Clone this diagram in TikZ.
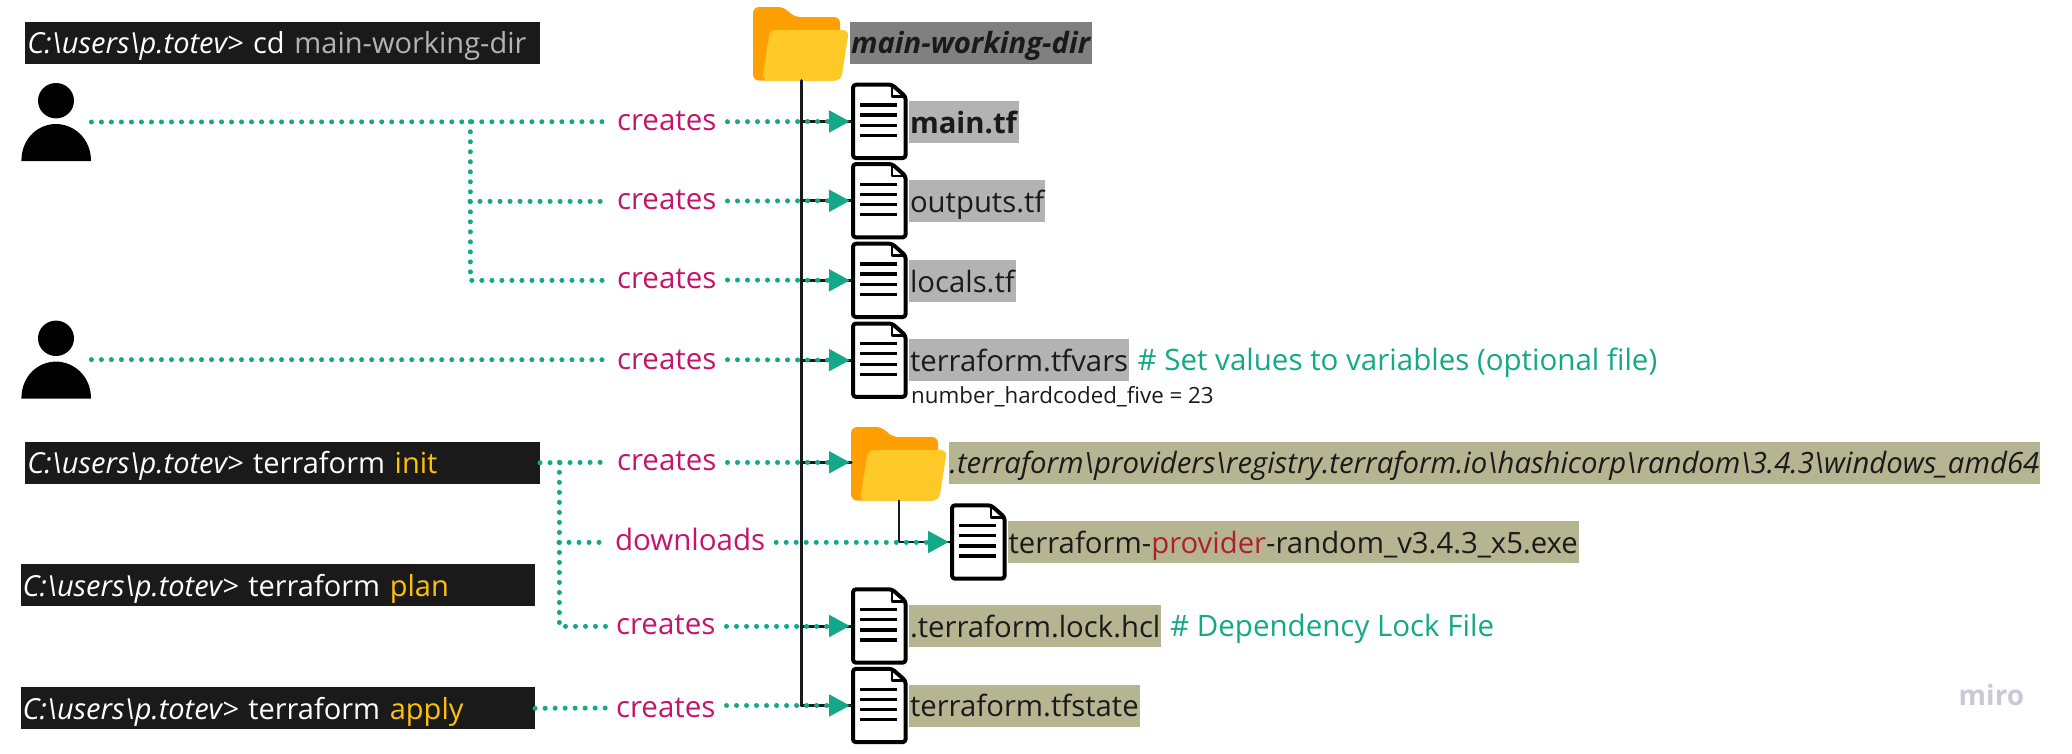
\documentclass[tikz,border=0pt]{standalone}
\usepackage{fontspec}
\setmainfont{Open Sans}
\usetikzlibrary{arrows.meta}

\definecolor{linkgreen}{HTML}{13A887}
\definecolor{linkpink}{HTML}{C4146B}
\definecolor{termblack}{HTML}{1A1A1A}
\definecolor{termyellow}{HTML}{FFC107}
\definecolor{dirgrey}{HTML}{808080}
\definecolor{filegrey}{HTML}{B3B3B3}
\definecolor{providerkhaki}{HTML}{B5B592}
\definecolor{providerred}{HTML}{B01E32}
\definecolor{foldback}{HTML}{FFA000}
\definecolor{foldfront}{HTML}{FFCA28}
\definecolor{logogrey}{HTML}{C9C9D6}

\tikzset{
    textstrip/.style={font=\fontsize{29.3}{34}\selectfont, anchor=west, text height=32pt, text depth=10pt, inner ysep=0pt, inner xsep=1pt, outer sep=0pt},
    termbox/.style={textstrip, font=\fontsize{29}{34}\selectfont, fill=termblack, text=white, text width=#1, align=left, inner xsep=2pt},
    dirbox/.style={textstrip, fill=dirgrey, text=termblack},
    filebox/.style={textstrip, fill=filegrey, text=termblack},
    provbox/.style={textstrip, fill=providerkhaki, text=termblack},
    actlabel/.style={font=\fontsize{29.5}{34}\selectfont, text=linkpink, anchor=west, text height=20pt, text depth=3pt, inner ysep=0pt, inner xsep=8pt, outer sep=0pt},
    notelabel/.style={font=\fontsize{29.5}{34}\selectfont, text=linkgreen, anchor=west, inner sep=0pt},
    dotline/.style={draw=linkgreen, line width=5pt, line cap=round, dash pattern=on 0.01pt off 10pt},
    dotarrow/.style={dotline, -{Triangle[length=21pt, width=21pt]}, shorten >=1pt, shorten <=3pt},
    treeline/.style={draw=termblack, line width=3pt},
    pics/docicon/.style={code={
        \node[inner sep=0pt, outer sep=0pt, minimum width=56.6pt, minimum height=77.4pt, anchor=north west] (-box) at (0,0) {};
        \draw[fill=white, line width=4pt, rounded corners=3pt] (41,2) -- (2,2) -- (2,75.4) -- (54.6,75.4) -- (54.6,14) -- cycle;
        \draw[line width=2.8pt, line cap=butt] (41,2) -- (41,14) -- (54.6,14);
        \draw[line width=3.2pt, line cap=butt] (9,22.3) -- (46,22.3);
        \draw[line width=3.2pt, line cap=butt] (9,32.3) -- (46,32.3);
        \draw[line width=3.2pt, line cap=butt] (9,42.6) -- (46,42.6);
        \draw[line width=3.2pt, line cap=butt] (9,52.6) -- (46,52.6);
    }},
    pics/foldericon/.style={code={
        \node[inner sep=0pt, outer sep=0pt, minimum width=96pt, minimum height=73.5pt, anchor=north west] (-box) at (0,0) {};
        \fill[foldback, rounded corners=6pt] (0,0) -- (31,0) -- (41,10) -- (87,10) -- (87,73.5) -- (0,73.5) -- cycle;
        \fill[foldfront, rounded corners=6pt] (17,23) -- (96,23) -- (88,73.5) -- (9,73.5) -- cycle;
    }},
    pics/usericon/.style={code={
        \node[inner sep=0pt, outer sep=0pt, minimum width=70pt, minimum height=78pt, anchor=north west] (-box) at (0,0) {};
        \fill (34.6,17.7) ellipse[x radius=18, y radius=17.7];
        \fill (0,78) .. controls (0,55) and (17,41) .. (34.6,41) .. controls (52,41) and (69.6,55) .. (69.6,78) -- cycle;
    }},
}

\begin{document}
\begin{tikzpicture}[line cap=round, line join=round, x=1pt, y=-1pt]

    \useasboundingbox (0,0) rectangle (2072,753);

    \node[termbox=510.6pt] (boxCd) at (25.4,42.7) {\textit{C:\textbackslash users\textbackslash p.totev>} cd \textcolor{filegrey}{main-working-dir}};
    \node[termbox=510.6pt] (boxInit) at (25.4,462.7) {\textit{C:\textbackslash users\textbackslash p.totev>} terraform \textcolor{termyellow}{init}};
    \node[termbox=510.6pt] (boxPlan) at (20.5,585.3) {\textit{C:\textbackslash users\textbackslash p.totev>} terraform \textcolor{termyellow}{plan}};
    \node[termbox=510.6pt] (boxApply) at (20.5,708.3) {\textit{C:\textbackslash users\textbackslash p.totev>} terraform \textcolor{termyellow}{apply}};

    \pic (userA) at (21.4,83) {usericon};
    \pic (userB) at (21.4,320.6) {usericon};

    \pic (folderMain) at (753,7) {foldericon};
    \pic (folderProv) at (851,427) {foldericon};

    \pic (fileMain) at (851,82.7) {docicon};
    \pic (fileOut) at (851,162) {docicon};
    \pic (fileLocal) at (851,241.7) {docicon};
    \pic (fileVars) at (851,321.5) {docicon};
    \pic (fileExe) at (950,503.3) {docicon};
    \pic (fileLock) at (851,587.3) {docicon};
    \pic (fileState) at (851,666.8) {docicon};

    \node[dirbox] (nameDir) at (850,42.7) {\textit{\textbf{main-working-dir}}};
    \node[filebox] (nameMain) at (909,122) {\textbf{main.tf}};
    \node[filebox] (nameOut) at (909,201) {outputs.tf};
    \node[filebox] (nameLocal) at (909,281) {locals.tf};
    \node[filebox] (nameVars) at (909,360) {terraform.tfvars};
    \node[provbox] (nameProv) at (948.7,462.7) {\textit{.terraform\textbackslash providers\textbackslash registry.terraform.io\textbackslash hashicorp\textbackslash random\textbackslash 3.4.3\textbackslash windows\_amd64}};
    \node[provbox] (nameExe) at (1007.6,542) {terraform-\textcolor{providerred}{provider}-random\_v3.4.3\_x5.exe};
    \node[provbox] (nameLock) at (909,626) {.terraform.lock.hcl};
    \node[provbox] (nameState) at (909,705.5) {terraform.tfstate};

    \node[notelabel] (noteVars) at (1137.5,363) {\# Set values to variables (optional file)};
    \node[notelabel] (noteLock) at (1170,629) {\# Dependency Lock File};
    \node[anchor=west, inner sep=0pt, font=\fontsize{22.3}{26}\selectfont, text=termblack] (valueVars) at (911,397) {number\_hardcoded\_five = 23};
    \node[anchor=west, inner sep=0pt, font=\fontsize{28}{34}\selectfont\bfseries, text=logogrey] (logoMiro) at (1958.5,695) {miro};

    \node[actlabel] (actMain) at (609,121.7) {creates};
    \node[actlabel] (actOut) at (609,201) {creates};
    \node[actlabel] (actLocal) at (609,280) {creates};
    \node[actlabel, text height=22pt] (actVars) at (609,359.7) {creates};
    \node[actlabel] (actProv) at (609,462.3) {creates};
    \node[actlabel] (actExe) at (607,542) {downloads};
    \node[actlabel] (actLock) at (608,626) {creates};
    \node[actlabel, text height=22pt] (actState) at (608,708) {creates};

    \coordinate (branchUser) at (470,121.7);
    \coordinate (branchInit) at (559,462.3);

    \draw[treeline] (folderMain-box.south) -- (folderMain-box.south |- fileState-box.west);
    \draw[treeline] (folderMain-box.south |- fileMain-box.west) -- (fileMain-box.west);
    \draw[treeline] (folderMain-box.south |- fileOut-box.west) -- (fileOut-box.west);
    \draw[treeline] (folderMain-box.south |- fileLocal-box.west) -- (fileLocal-box.west);
    \draw[treeline] (folderMain-box.south |- fileVars-box.west) -- (fileVars-box.west);
    \draw[treeline] (folderMain-box.south |- actProv.east) -- (folderProv-box.west |- actProv.east);
    \draw[treeline] (folderMain-box.south |- fileLock-box.west) -- (fileLock-box.west);
    \draw[treeline] (folderMain-box.south |- fileState-box.west) -- (fileState-box.west);
    \draw[treeline, line width=1.8pt] (folderProv-box.south) |- (fileExe-box.west);

    \draw[dotline] (userA-box.east) -- (actMain.west);
    \draw[dotline] (branchUser) |- (actLocal.west);
    \draw[dotline] (branchUser |- actOut.west) -- (actOut.west);
    \draw[dotline] (userB-box.east) -- (actVars.west);
    \draw[dotline] (boxInit.east) -- (actProv.west);
    \draw[dotline] (branchInit) |- (actLock.west);
    \draw[dotline] (branchInit |- actExe.west) -- (actExe.west);
    \draw[dotline] (boxApply.east) -- (actState.west);

    \draw[dotarrow] (actMain.east) -- (fileMain-box.west);
    \draw[dotarrow] (actOut.east) -- (fileOut-box.west);
    \draw[dotarrow] (actLocal.east) -- (fileLocal-box.west);
    \draw[dotarrow] (actVars.east) -- (fileVars-box.west);
    \draw[dotarrow] (actProv.east) -- (folderProv-box.west |- actProv.east);
    \draw[dotarrow] (actExe.east) -- (fileExe-box.west);
    \draw[dotarrow] (actLock.east) -- (fileLock-box.west);
    \draw[dotarrow] (actState.east |- fileState-box.west) -- (fileState-box.west);

\end{tikzpicture}
\end{document}
